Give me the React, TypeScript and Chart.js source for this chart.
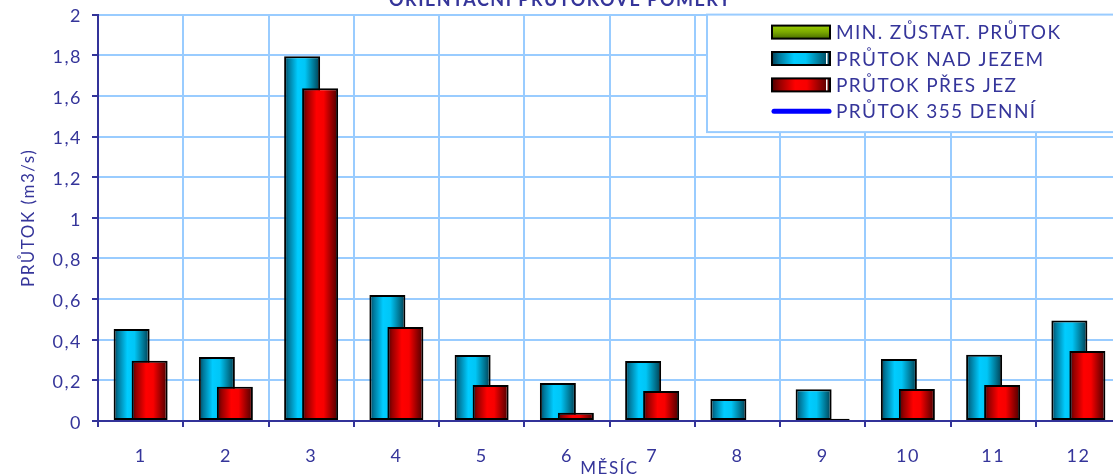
import React, { useEffect, useRef } from 'react';
import { Chart, registerables } from 'chart.js';

Chart.register(...registerables);

// ---------- data ----------
const CHART_TITLE = 'ORIENTAČNÍ PRŮTOKOVÉ POMĚRY';
const X_TITLE = 'MĚSÍC';
const Y_TITLE = 'PRŮTOK (m3/s)';
const MONTHS = ['1', '2', '3', '4', '5', '6', '7', '8', '9', '10', '11', '12'];
const SERIES_LABELS = ['MIN. ZŮSTAT. PRŮTOK', 'PRŮTOK NAD JEZEM', 'PRŮTOK PŘES JEZ', 'PRŮTOK 355 DENNÍ'];
const MIN_ZUSTAT: (number | null)[] = [null, null, null, null, null, null, null, null, null, null, null, null];
const NAD_JEZEM = [0.453, 0.315, 1.795, 0.62, 0.325, 0.187, 0.295, 0.108, 0.156, 0.305, 0.326, 0.494];
const PRES_JEZ = [0.296, 0.168, 1.637, 0.463, 0.177, 0.041, 0.148, 0, 0.011, 0.158, 0.177, 0.345];
const Q355: (number | null)[] = [null, null, null, null, null, null, null, null, null, null, null, null];
const Y_MIN = 0;
const Y_MAX = 2;
const Y_STEP = 0.2;

// ---------- styles ----------
const TEXT = '#35359a';
const AXIS = '#333399';
const GRID = '#99ccff';
const FONT = 'Lato';
const CYAN_STOPS: [number, string][] = [
  [0, '#003f55'], [0.12, '#00779a'], [0.38, '#00ccff'], [0.58, '#00c6f6'], [0.82, '#007896'], [1, '#003a4d'],
];
const RED_STOPS: [number, string][] = [
  [0, '#4d0000'], [0.14, '#990000'], [0.4, '#ff0000'], [0.6, '#f80000'], [0.84, '#8c0000'], [1, '#480000'],
];
const GREEN_STOPS: [number, string][] = [[0, '#9acd00'], [0.5, '#7aa800'], [1, '#4a6e00']];

function grad(ctx: CanvasRenderingContext2D, x0: number, y0: number, x1: number, y1: number, stops: [number, string][]) {
  const g = ctx.createLinearGradient(x0, y0, x1, y1);
  stops.forEach(([o, c]) => g.addColorStop(o, c));
  return g;
}

function barFill(stops: [number, string][], fallback: string) {
  return (c: any) => {
    const el = c.element;
    if (!el || el.x == null || !isFinite(el.x) || !isFinite(el.width) || !el.width) return fallback;
    return grad(c.chart.ctx, el.x - el.width / 2, 0, el.x + el.width / 2, 0, stops);
  };
}

const fmt = (v: number) => String(Math.round(v * 10) / 10).replace('.', ',');

const spacingPlugin = {
  id: 'spacing',
  beforeDraw(chart: any) {
    chart.ctx.letterSpacing = '1.5px';
  },
};

const orderPlugin = {
  id: 'drawOrder',
  beforeDatasetsDraw(chart: any) {
    const metas = chart.getSortedVisibleDatasetMetas().slice().sort((a: any, b: any) => a.index - b.index);
    for (const m of metas) {
      if (typeof chart._drawDataset === 'function') chart._drawDataset(m);
      else m.controller.draw();
    }
    return false;
  },
};

const legendPlugin = {
  id: 'boxLegend',
  afterDraw(chart: any) {
    const { ctx, chartArea } = chart;
    const left = chartArea.left + 609;
    const top = chartArea.top;
    const bottom = top + 117.5;
    const right = chart.width + 10;
    ctx.save();
    ctx.fillStyle = '#ffffff';
    ctx.fillRect(left, top, right - left, bottom - top);
    ctx.strokeStyle = GRID;
    ctx.lineWidth = 2;
    ctx.strokeRect(left, top, right - left, bottom - top);
    ctx.letterSpacing = '1.4px';
    ctx.font = `19px ${FONT}`;
    ctx.textBaseline = 'middle';
    ctx.textAlign = 'left';
    const ds = chart.data.datasets;
    ds.forEach((d: any, i: number) => {
      const cy = top + 17.5 + i * 26.4;
      const sx = left + 65;
      const sw = 58;
      const sh = 13;
      if (d.type === 'line') {
        ctx.strokeStyle = d.borderColor;
        ctx.lineWidth = 5;
        ctx.lineCap = 'round';
        ctx.beginPath();
        ctx.moveTo(sx + 2, cy);
        ctx.lineTo(sx + sw - 1, cy);
        ctx.stroke();
      } else {
        const stops = d.legendStops as [number, string][];
        ctx.fillStyle = d.legendVertical
          ? grad(ctx, 0, cy - sh / 2, 0, cy + sh / 2, stops)
          : grad(ctx, sx, 0, sx + sw, 0, stops);
        ctx.fillRect(sx, cy - sh / 2, sw, sh);
        if (!d.legendVertical) {
          ctx.fillStyle = '#ffffff';
          ctx.fillRect(sx + sw - 4, cy - sh / 2, 1.5, sh);
        }
        ctx.strokeStyle = '#000000';
        ctx.lineWidth = 2;
        ctx.lineCap = 'butt';
        ctx.strokeRect(sx, cy - sh / 2, sw, sh);
      }
      ctx.fillStyle = TEXT;
      ctx.fillText(d.label, left + 129, cy + 1);
    });
    ctx.restore();
  },
};

export default function App() {
  const ref = useRef<HTMLCanvasElement | null>(null);

  useEffect(() => {
    if (!ref.current) return;
    const tickFont = { family: FONT, size: 18 };
    const chart = new Chart(ref.current, {
      type: 'bar',
      data: {
        labels: MONTHS,
        datasets: [
          {
            type: 'bar',
            label: SERIES_LABELS[0],
            data: MIN_ZUSTAT,
            backgroundColor: barFill(GREEN_STOPS, '#7aa800'),
            borderColor: '#000000',
            borderWidth: 2,
            borderSkipped: false,
            skipNull: true,
            legendStops: GREEN_STOPS,
            legendVertical: true,
          } as any,
          {
            type: 'bar',
            label: SERIES_LABELS[1],
            data: NAD_JEZEM,
            backgroundColor: barFill(CYAN_STOPS, '#00ccff'),
            borderColor: '#000000',
            borderWidth: 2,
            borderSkipped: false,
            skipNull: true,
            legendStops: CYAN_STOPS,
          } as any,
          {
            type: 'bar',
            label: SERIES_LABELS[2],
            data: PRES_JEZ,
            backgroundColor: barFill(RED_STOPS, '#ff0000'),
            borderColor: '#000000',
            borderWidth: 2,
            borderSkipped: false,
            skipNull: true,
            legendStops: RED_STOPS,
          } as any,
          {
            type: 'line',
            label: SERIES_LABELS[3],
            data: Q355,
            borderColor: '#0000ff',
            backgroundColor: '#0000ff',
            borderWidth: 4,
            pointRadius: 0,
            spanGaps: false,
          } as any,
        ],
      },
      options: {
        responsive: false,
        animation: false,
        events: [],
        datasets: {
          bar: { categoryPercentage: 0.4223, barPercentage: 2.0 },
        },
        layout: { padding: { left: 0, right: 4, top: 0, bottom: 0 } },
        plugins: {
          legend: { display: false },
          tooltip: { enabled: false },
          title: {
            display: true,
            text: CHART_TITLE,
            color: TEXT,
            font: { family: FONT, size: 18, weight: 'bold' },
            padding: { top: 9, bottom: 4 },
          },
        },
        scales: {
          x: {
            type: 'category',
            offset: true,
            ticks: { color: TEXT, font: tickFont, padding: 18, maxRotation: 0 },
            grid: { color: GRID, lineWidth: 2, tickColor: AXIS, tickLength: 6, tickWidth: 2, offset: true },
            border: { color: AXIS, width: 2 },
            title: { display: true, text: X_TITLE, color: TEXT, font: { family: FONT, size: 17 }, padding: { top: 0, bottom: 1 } },
            afterFit: (s: any) => { s.height = 59; },
          },
          y: {
            min: Y_MIN,
            max: Y_MAX,
            ticks: {
              stepSize: Y_STEP,
              color: TEXT,
              font: tickFont,
              padding: 10,
              labelOffset: 2,
              callback: (v: any) => fmt(Number(v)),
            },
            grid: { color: GRID, lineWidth: 2, tickColor: AXIS, tickLength: 6, tickWidth: 2 },
            border: { color: AXIS, width: 2 },
            title: { display: true, text: Y_TITLE, color: TEXT, font: { family: FONT, size: 17 }, padding: { top: 18, bottom: 0 } },
            afterFit: (s: any) => { s.width = 98; },
          },
        },
      } as any,
      plugins: [spacingPlugin, orderPlugin, legendPlugin],
    });
    chart.update('none');
    return () => chart.destroy();
  }, []);

  return (
    <div style={{ position: 'fixed', left: 0, top: 0, width: 1113, height: 475, overflow: 'hidden', background: '#ffffff' }}>
      <div style={{ position: 'absolute', left: 0, top: -20, width: 1125, height: 500 }}>
        <canvas ref={ref} width={1125} height={500} style={{ display: 'block' }} />
      </div>
    </div>
  );
}
